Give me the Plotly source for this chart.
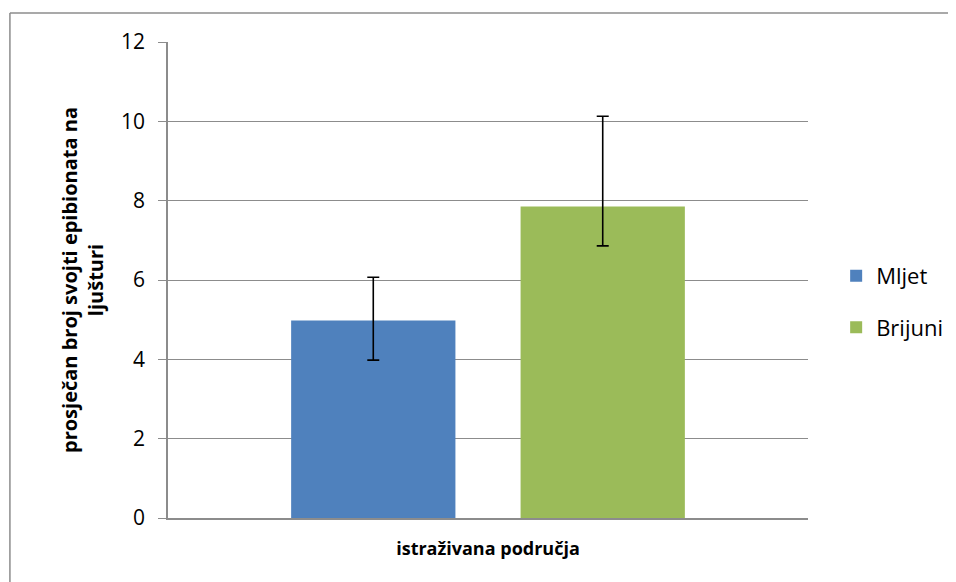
import plotly.graph_objects as go

# one category, two regions
category = [""]
regions = ["Mljet", "Brijuni"]
means = [4.98, 7.85]
err_plus = [1.09, 2.28]
err_minus = [1.0, 0.99]
colors = ["#4F81BD", "#9BBB59"]
y_ticks = [0, 2, 4, 6, 8, 10, 12]

fig = go.Figure()
for i, name in enumerate(regions):
    fig.add_trace(go.Bar(
        x=category, y=[means[i]], name=name,
        marker=dict(color=colors[i], line=dict(width=0)),
        legendgroup=name,
        error_y=dict(type="data", symmetric=False,
                     array=[err_plus[i]], arrayminus=[err_minus[i]],
                     color="black", thickness=1.6, width=6),
    ))

border = dict(color="#8c8c8c", width=1.5)

# page body shifts the figure by 8px; its right/bottom edges fall off-screen
fig.update_layout(
    width=956, height=582,
    margin=dict(l=160, r=156, t=34, b=72, autoexpand=False),
    paper_bgcolor="white", plot_bgcolor="white",
    font=dict(family="Open Sans, Noto Sans, sans-serif", size=21, color="black"),
    barmode="group", bargap=0.283, bargroupgap=0.284,
    showlegend=True,
    legend=dict(x=1.044, y=0.454, yanchor="middle", xanchor="left",
                font=dict(size=22), tracegroupgap=20,
                itemwidth=30, bgcolor="rgba(0,0,0,0)"),
    # chart frame: only top and left edges fall inside the picture
    shapes=[
        dict(type="line", xref="paper", yref="paper",
             x0=-0.247, x1=1.3, y0=1.061, y1=1.061, line=border),
        dict(type="line", xref="paper", yref="paper",
             x0=-0.247, x1=-0.247, y0=-0.2, y1=1.061, line=border),
    ],
)

fig.update_yaxes(
    range=[0, 12], tickvals=y_ticks, showgrid=True, gridcolor="#8c8c8c",
    gridwidth=1, showline=True, linecolor="#8c8c8c", linewidth=1.5,
    ticks="outside", ticklen=8, tickcolor="#8c8c8c", zeroline=False,
    ticklabelstandoff=9,
    title=dict(text="<b>prosječan broj svojti epibionata na<br>ljušturi</b>",
               font=dict(size=20), standoff=12),
)
fig.update_xaxes(
    showline=True, linecolor="#8c8c8c", linewidth=1.5, showticklabels=False,
    ticks="",
    title=dict(text="<b>istraživana područja</b>", font=dict(size=18), standoff=24),
)

fig.write_html("out.html")
